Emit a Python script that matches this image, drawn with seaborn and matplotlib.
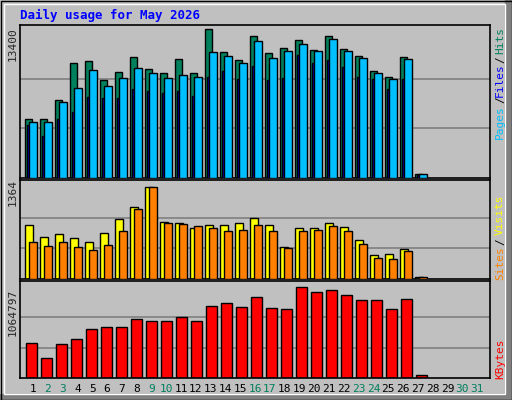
import numpy as np
import pandas as pd
import matplotlib
matplotlib.use('Agg')
import matplotlib.pyplot as plt
import seaborn as sns
from matplotlib.patches import Rectangle

sns.set_style('white')
plt.rcParams['font.family'] = ['DejaVu Sans Mono', 'DejaVu Sans']

days = list(range(1, 32))
weekend = [2, 3, 9, 10, 16, 17, 23, 24, 30, 31]

hits = [5306, 5306, 7034, 10309, 10491, 8853, 9490, 10854, 9763, 9399, 10672, 9399, 13400,
        11309, 10581, 12764, 11218, 11673, 12401, 11491, 12764, 11582, 10945, 9581, 9126, 10854, 394]
files = [5033, 5033, 6852, 8126, 9672, 8308, 9035, 9854, 9399, 9035, 9308, 9126, 11309,
         10946, 10309, 12310, 10764, 11400, 12037, 11400, 12492, 11400, 10764, 9399, 8944, 10673, 394]
pages = [4760, 3760, 5306, 5943, 7307, 7216, 7216, 8035, 7853, 7671, 7853, 7398, 9126,
         9581, 8944, 10036, 8853, 9035, 11036, 10309, 10581, 9945, 9126, 8944, 8035, 8944, 300]
sites = [799, 620, 665, 605, 546, 680, 888, 1066, 1364, 843, 828, 754, 799, 799, 828, 903,
         799, 471, 754, 754, 828, 769, 575, 352, 367, 441, 25]
visits = [546, 486, 546, 471, 427, 501, 709, 1037, 1364, 828, 813, 784, 754, 709, 724, 799,
          709, 456, 709, 724, 784, 709, 516, 308, 293, 412, 25]
kbytes = [409500, 234000, 397800, 456300, 573300, 596700, 596700, 690300, 666900, 666900,
          713700, 666900, 842400, 877500, 830700, 947700, 819000, 807300, 1064797, 1006200,
          1029600, 971100, 912600, 912600, 807300, 924300, 35100]

BG = '#C0C0C0'
W, H = 512, 400
XLIM = (-0.77, 30.56)
fig = plt.figure(figsize=(W / 100, H / 100), dpi=100, facecolor=BG)

# outer frame and shadow
fig.add_artist(Rectangle((505 / W, 0), 7 / W, 1, transform=fig.transFigure, color='#808080'))
fig.add_artist(Rectangle((0, 0), 1, 6 / H, transform=fig.transFigure, color='#808080'))
fig.add_artist(Rectangle((0.5 / W, 0.5 / H), 1 - 1 / W, 1 - 1 / H, transform=fig.transFigure,
                         fill=False, ec='black', lw=1))
fig.add_artist(Rectangle((4 / W, 6 / H), 501 / W, 390 / H, transform=fig.transFigure,
                         fill=False, ec='white', lw=1))


def panel(y0, y1):
    ax = fig.add_axes([20 / W, 1 - y1 / H, 470 / W, (y1 - y0) / H])
    ax.set_facecolor(BG)
    for s in ax.spines.values():
        s.set_color('black')
        s.set_linewidth(1.2)
    ax.set_xlim(*XLIM)
    ax.set_xticks([])
    ax.set_yticks([])
    return ax


x = np.arange(len(hits))
edge = dict(edgecolor='black', linewidth=1, align='edge')

ax1 = panel(25, 178)
ax1.set_ylim(0, 13400 * 153 / 149)
for g in (1 / 3, 2 / 3):
    ax1.axhline(13400 * g, color='#808080', lw=1.2, zorder=0)
ax1.bar(x - 0.43, hits, width=0.46, color='#00805C', zorder=2, **edge)
ax1.bar(x - 0.3, pages, width=0.13, color='#0000FF', zorder=3, **edge)
ax1.bar(x - 0.17, files, width=0.5, color='#00BFFF', zorder=4, **edge)

ax2 = panel(180, 279)
ax2.set_ylim(0, 1364 * 99 / 92)
for g in (1 / 3, 2 / 3):
    ax2.axhline(1364 * g, color='#808080', lw=1.2, zorder=0)
ax2.bar(x - 0.43, sites, width=0.55, color='#FFFF00', zorder=2, **edge)
ax2.bar(x - 0.17, visits, width=0.5, color='#FF8000', zorder=3, **edge)

ax3 = panel(281, 378)
ax3.set_ylim(0, 1064797 * 97 / 91)
for g in (1 / 3, 2 / 3):
    ax3.axhline(1064797 * g, color='#808080', lw=1.2, zorder=0)
df = pd.DataFrame({'day': x, 'kb': kbytes})
sns.barplot(data=df, x='day', y='kb', native_scale=True, width=0.68, color='#FF0000',
            saturation=1, edgecolor='black', linewidth=1, ax=ax3, zorder=2)
ax3.set_xlim(*XLIM)
ax3.set_xticks([])
ax3.set_xlabel('')
ax3.set_ylabel('')

# title and axis texts
fig.text(20 / W, 1 - 15 / H, 'Daily usage for May 2026', color='#0000FF', fontsize=9,
         fontweight='bold', va='center')
for ylab, yc in (('13400', 44), ('1364', 193), ('1064797', 312)):
    fig.text(13 / W, 1 - yc / H, ylab, rotation=90, fontsize=8, ha='center', va='center')

for lab, col, yc in (('Pages', '#00BFFF', 122), ('/', 'black', 100), ('Files', '#0000FF', 80),
                     ('/', 'black', 60), ('Hits', '#00805C', 40),
                     ('Sites', '#FF8000', 263), ('/', 'black', 242), ('Visits', '#FFFF00', 215),
                     ('KBytes', '#FF0000', 359)):
    fig.text(500 / W, 1 - yc / H, lab, rotation=90, color=col, fontsize=8,
             ha='center', va='center')

for d in days:
    xc = 33 + (d - 1) * 14.8
    fig.text(xc / W, 1 - 389 / H, str(d), fontsize=8, ha='center', va='center',
             color='#00805C' if d in weekend else 'black')

fig.savefig('out.png', dpi=100, facecolor=BG)
